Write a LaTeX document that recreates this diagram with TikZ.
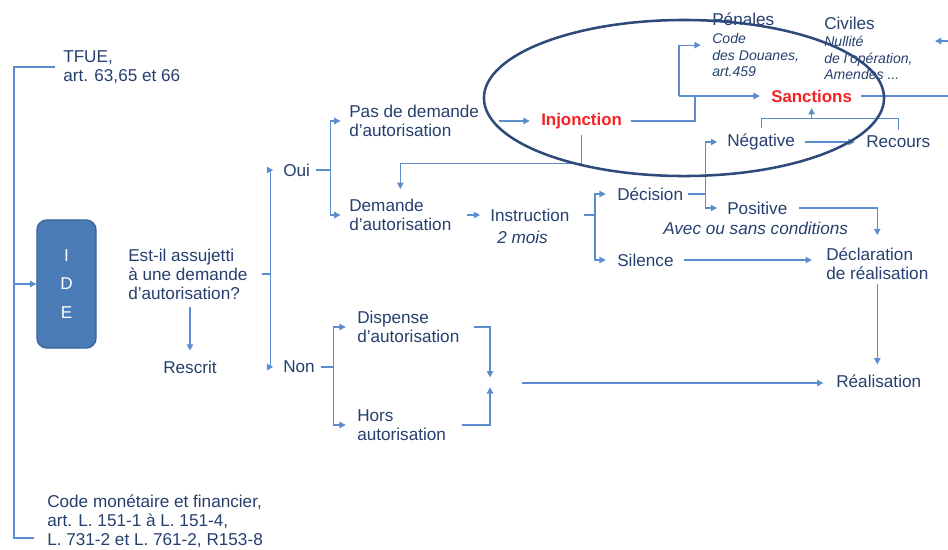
\documentclass[tikz,border=0pt]{standalone}
\usepackage{fontspec}
\setmainfont{Liberation Sans}
\usepackage{tikz}
\usetikzlibrary{arrows.meta,calc}

\definecolor{navy}{HTML}{253F6E}
\definecolor{wireblue}{HTML}{5B8CCB}
\definecolor{alarm}{HTML}{F42222}
\definecolor{ringblue}{HTML}{2E4A7A}
\definecolor{boxfill}{HTML}{4A7BB7}
\definecolor{boxedge}{HTML}{3A659A}

\begin{document}
\begin{tikzpicture}[x=0.025cm,y=-0.025cm,
  txt/.style={anchor=west,align=left,inner xsep=0pt,inner ysep=1pt,text=navy,
    font=\fontsize{12.2}{13.6}\selectfont},
  slant/.style={txt,font=\fontsize{12.2}{13.6}\selectfont\itshape},
  note/.style={txt,font=\fontsize{10}{11.7}\selectfont\itshape},
  hot/.style={txt,text=alarm,font=\fontsize{12}{13.6}\selectfont\bfseries},
  box/.style={draw=boxedge,fill=boxfill,line width=1pt,rounded corners=7pt,
    minimum width=1.475cm,minimum height=3.2cm,text=white,align=center,
    font=\fontsize{12.2}{20.5}\selectfont},
  wire/.style={draw=wireblue,line width=0.9pt},
  arr/.style={wire,-{Triangle[length=4.5pt,width=4.5pt]}},
  ring/.style={draw=ringblue,line width=1.8pt}]
\useasboundingbox (0,0) rectangle (948,549);
\clip (0,0) rectangle (948,549);

\node[txt] (tfue) at (63,67) {TFUE,\\art. 63,65 et 66};
\node[txt] (cmf) at (47,521) {Code monétaire et financier,\\art. L. 151-1 à L. 151-4,\\L. 731-2 et L. 761-2, R153-8};
\node[box] (ide) at (66.5,284) {I\\D\\E};
\node[txt] (quest) at (128,274) {Est-il assujetti\\à une demande\\d’autorisation?};
\node[txt] (rescrit) at (163,367) {Rescrit};
\node[txt] (oui) at (283,170) {Oui};
\node[txt] (non) at (283,367) {Non};
\node[txt] (pas) at (349,121) {Pas de demande\\d’autorisation};
\node[txt] (dem) at (349,215) {Demande\\d’autorisation};
\node[txt] (disp) at (357,327) {Dispense\\d’autorisation};
\node[txt] (hors) at (357,425) {Hors\\autorisation};
\node[txt] (instr) at (490,215) {Instruction};
\node[slant] (mois) at (497,237) {2 mois};
\node[txt] (dec) at (617,194) {Décision};
\node[txt] (sil) at (617,260) {Silence};
\node[txt] (neg) at (727,142) {Négative};
\node[txt] (pos) at (727,208) {Positive};
\node[slant] (avec) at (663,228) {Avec ou sans conditions};
\node[txt] (decl) at (826,264) {Déclaration\\de réalisation};
\node[txt] (real) at (836,381) {Réalisation};
\node[txt] (recours) at (866,142) {Recours};
\node[hot] (inj) at (541,121) {Injonction};
\node[hot] (sanc) at (771,96) {Sanctions};
\node[txt] (pen) at (712,19) {Pénales};
\node[note] (penx) at (712,55) {Code\\des Douanes,\\art.459};
\node[txt] (civ) at (824,23) {Civiles};
\node[note] (civx) at (824,58) {Nullité\\de l’opération,\\Amendes ...};

\coordinate (spine) at (14,284);
\coordinate (mrg) at (490,383);
\coordinate (sj) at (695,96);
\coordinate (pj) at (679,96);
\coordinate (civin) at (935,41);

% sources
\draw[wire] ([xshift=-6pt]tfue.west) -| (spine);
\draw[wire] (spine) |- ([xshift=-9pt,yshift=-12pt]cmf.west);
\draw[arr] (spine) -- (ide.west);

% question
\draw[arr,shorten <=4pt,shorten >=6pt] (quest.south -| rescrit.north) -- (rescrit.north);
\draw[arr,shorten >=7pt] ([xshift=10pt]quest.east) -- ++(6pt,0) |- (oui.west);
\draw[arr,shorten >=7pt] ([xshift=10pt]quest.east) -- ++(6pt,0) |- (non.west);

% oui
\draw[arr,shorten >=6pt] ([xshift=4pt]oui.east) -- ++(10.5pt,0) |- (pas.west);
\draw[arr,shorten >=6pt] ([xshift=4pt]oui.east) -- ++(10.5pt,0) |- (dem.west);
\draw[arr,shorten <=14pt,shorten >=8pt] (pas.east |- inj.west) -- (inj.west);
\draw[arr,shorten <=3pt,shorten >=6pt] (inj.south) -- ++(0,33) -| (dem.north);
\draw[arr,shorten <=11pt,shorten >=7pt] (dem.east) -- (instr.west);
\draw[arr,shorten >=8pt] ([xshift=10pt]instr.east) -- ++(8pt,0) |- (dec.west);
\draw[arr,shorten >=8pt] ([xshift=10pt]instr.east) -- ++(8pt,0) |- (sil.west);
\draw[arr,shorten >=7pt] ([xshift=3pt]dec.east) -- ++(13pt,0) |- (neg.west);
\draw[arr,shorten >=7pt] ([xshift=3pt]dec.east) -- ++(13pt,0) |- (pos.west);
\draw[arr,shorten <=7pt,shorten >=8pt] (neg.east) -- (recours.west);
\draw[arr,shorten <=8pt,shorten >=8pt] (pos.east) -| (decl.north);
\draw[arr,shorten <=7pt,shorten >=10pt] (sil.east) -- (sil.east -| decl.west);
\draw[arr,shorten <=2pt,shorten >=6pt] (decl.south) -- (decl.south |- real.north);

% sanctions
\draw[wire,shorten <=6pt] (inj.east) -| (sj);
\draw[arr,shorten >=8pt] (pj) -- (sanc.west);
\draw[arr,shorten >=8pt] (pj) |- ([yshift=7pt]penx.west);
\draw[wire] ([yshift=3pt]neg.north) -- ([yshift=10pt]neg.north) -| ([yshift=3pt]recours.north);
\draw[arr,shorten >=3pt] ([yshift=10pt]neg.north -| sanc.south) -- (sanc.south);
\draw[arr,shorten <=6pt] (sanc.east) -| (975,41) -- (civin);

% non
\draw[arr,shorten >=8pt] ([xshift=4pt]non.east) -- ++(9pt,0) |- (disp.west);
\draw[arr,shorten >=8pt] ([xshift=4pt]non.east) -- ++(9pt,0) |- (hors.west);
\draw[arr] ([xshift=10pt]disp.east) -| ([yshift=4pt]mrg);
\draw[arr] ([xshift=11pt]hors.east) -| ([yshift=-3pt]mrg);
\draw[arr,shorten >=9pt] ([xshift=23pt]mrg) -- (mrg -| real.west);

\draw[ring] (684,98) ellipse [x radius=5cm, y radius=1.95cm];
\end{tikzpicture}
\end{document}
